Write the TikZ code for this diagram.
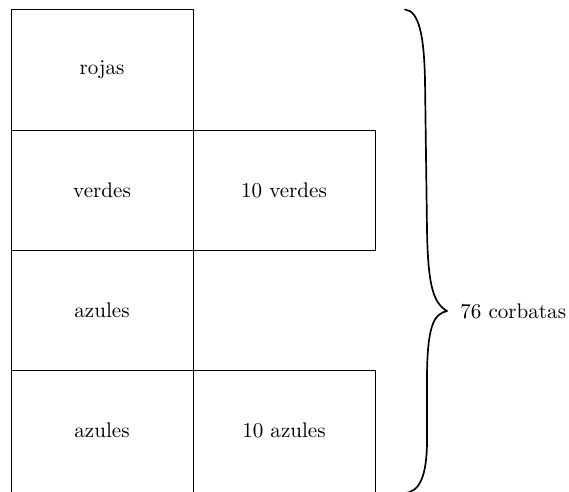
\documentclass[tikz,border=0pt]{standalone}
\begin{document}
\begin{tikzpicture}[x=0.016667cm, y=-0.016667cm,
  cell/.style={draw, line width=0.4pt},
  lbl/.style={inner sep=0pt, font=\normalsize},
  bracestyle/.style={draw, thick, line cap=round, line join=round}]
  \useasboundingbox (0,0) rectangle (569,492);
  \clip (0,0) rectangle (569,492);
  % left column
  \draw[cell] (11,9.5) rectangle (193,130);
  \draw[cell] (11,130) rectangle (193,250);
  \draw[cell] (11,250) rectangle (193,370);
  \draw[cell] (11,370) rectangle (193,620);
  % right column
  \draw[cell] (193,130) rectangle (375,250);
  \draw[cell] (193,370) rectangle (375,620);
  % cell labels
  \node[lbl] (rojas)   at (102,70)  {rojas};
  \node[lbl] (verdes)  at (102,190) {verdes};
  \node[lbl] (verdesR) at (284,190) {10 verdes};
  \node[lbl] (azulA)   at (102,310) {azules};
  \node[lbl] (azulB)   at (102,430) {azules};
  \node[lbl] (azulR)   at (284,430) {10 azules};
  % hand-shaped brace gathering the rows, tip pointing at the total
  \coordinate (btop) at (405,9.5);
  \coordinate (btip) at (447,311);
  \coordinate (bbot) at (405,493);
  \path[bracestyle] (btop) .. controls (419,11) and (424,35) .. (425,80)
    -- (427,230) .. controls (428,285) and (433,303) .. (btip)
    .. controls (434,314) and (427,325) .. (427,380)
    -- (427,440) .. controls (427,475) and (420,492) .. (bbot);
  \node[lbl, anchor=west] (total) at (460,311) {76 corbatas};
\end{tikzpicture}
\end{document}
